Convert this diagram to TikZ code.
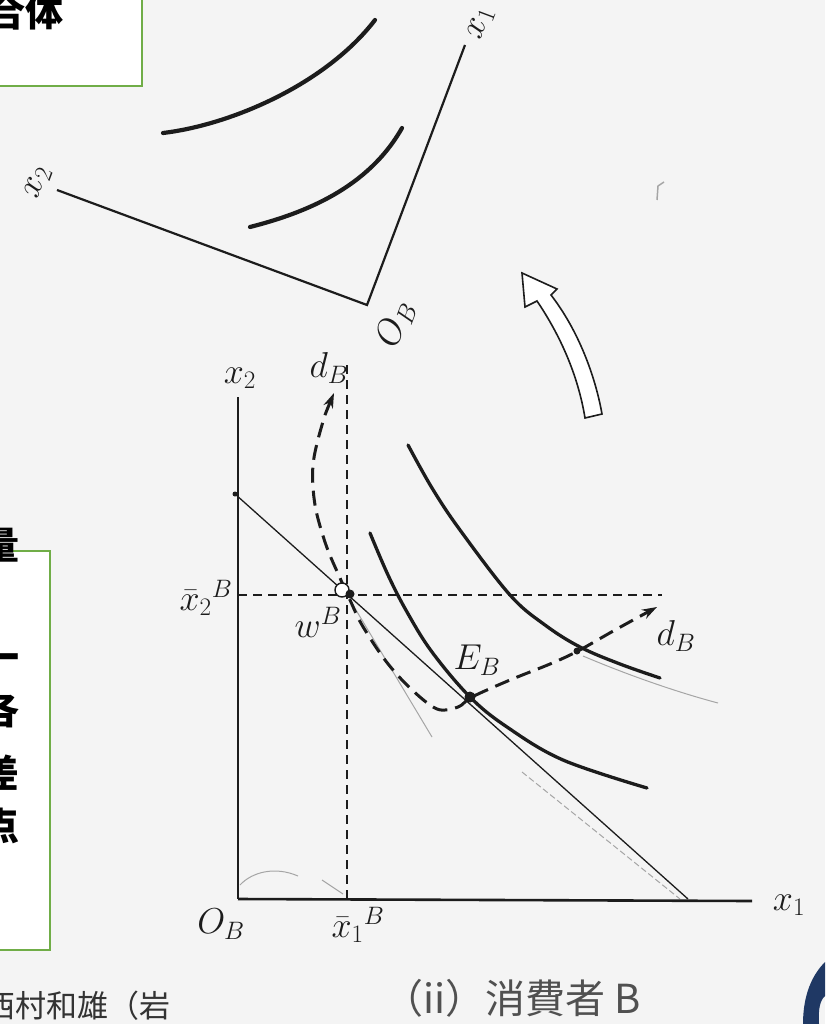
\RequirePackage{fix-cm}
\documentclass[tikz,border=0pt]{standalone}
\usepackage{fontspec}
\usetikzlibrary{arrows.meta}
\newfontfamily\cjk{Noto Sans CJK JP}
\definecolor{bg}{RGB}{244,244,244}
\definecolor{boxgreen}{RGB}{112,173,71}
\definecolor{ink}{RGB}{28,28,28}
\definecolor{faint}{RGB}{165,165,165}
\definecolor{navy}{RGB}{31,56,100}
\definecolor{captiongray}{RGB}{80,80,80}
\tikzset{
  lbl/.style={font=\fontsize{36}{36}\selectfont, inner sep=0pt, text=ink},
  axisline/.style={ink, line width=1.8pt},
  xaxisline/.style={ink, line width=2.6pt},
  upaxis/.style={ink, line width=2.2pt, line join=miter},
  icurve/.style={ink, line width=3.3pt, line cap=round},
  upcurve/.style={ink, line width=4.2pt, line cap=round},
  guide/.style={ink, line width=1.2pt, dash pattern=on 9pt off 6pt},
  budget/.style={ink, line width=1.3pt},
  demand/.style={ink, line width=3pt, dash pattern=on 15pt off 8pt,
    {Stealth[length=15pt,width=10pt]}-{Stealth[length=15pt,width=10pt]}},
  faintline/.style={faint, line width=1pt},
  greenbox/.style={draw=boxgreen, line width=2.5pt, fill=white},
  jpbig/.style={font=\cjk\bfseries\fontsize{38}{38}\selectfont, inner sep=0pt, text=black},
  dotnode/.style={circle, fill=ink, inner sep=0pt}
}
\begin{document}
\begin{tikzpicture}[x=1pt,y=-1pt]
\useasboundingbox (0,0) rectangle (825,1024);
\fill[bg] (0,0) rectangle (825,1024);

% ---- green boxes with cut text ----
\draw[greenbox] (-10,-10) rectangle (142,86);
\node[jpbig, anchor=east] (gotai) at (64,12) {合体};
\draw[greenbox] (-10,551) rectangle (50,950);
\node[jpbig, anchor=east] (c1) at (20,545) {量};
\node[jpbig, anchor=east] (c2) at (20,663) {一};
\node[jpbig, anchor=east] (c3) at (20,710) {各};
\node[jpbig, anchor=east] (c4) at (20,773) {差};
\node[jpbig, anchor=east] (c5) at (20,826) {点};
\node[font=\cjk\fontsize{31}{31}\selectfont, text=black!80, anchor=west, inner sep=0pt] (author) at (-16,1006) {西村和雄（岩};

% ---- navy logo fragment ----
\fill[navy] (825,962) .. controls (812,975) and (803,995) .. (803,1024) -- (819,1024) .. controls (818,1010) and (820,1000) .. (825,996) -- cycle;

% ---- upper rotated diagram ----
\coordinate (OBu) at (367,305);
\coordinate (x1u) at (465,45);
\coordinate (x2u) at (57,190);
\draw[upaxis] (x2u) -- (OBu) -- (x1u);
\draw[upcurve] (163,133) .. controls (230,125) and (325,85) .. (375,20);
\draw[upcurve] (250,227) .. controls (305,213) and (368,188) .. (402,128);
\node[lbl, rotate=69.5] (x1ul) at (481,24) {$x_1$};
\node[lbl, rotate=69.5] (x2ul) at (38,183) {$x_2$};
\node[lbl, rotate=69.5] (OBul) at (396,324) {$O_B$};

% ---- open curved arrow ----
\draw[ink, line width=1.6pt, fill=white, line join=miter]
  (585,418) -- (602,414) .. controls (595,375) and (578,330) .. (551,295)
  -- (557,289) -- (522,273) -- (525,307) -- (537,301)
  .. controls (560,335) and (578,375) .. (585,418) -- cycle;
% faint mark
\draw[faint, line width=1.5pt] (657,200) -- (658,186) -- (664,182);

% ---- main diagram ----
\coordinate (O) at (238,899);
\coordinate (x2top) at (238,397);
\coordinate (x1end) at (752,901);
\coordinate (vtop) at (347,365);
\coordinate (vbot) at (347,899);
\coordinate (hleft) at (238,595);
\coordinate (hright) at (662,595);
\coordinate (bstart) at (235,494);
\coordinate (bend) at (688,899);

% faint traces
\draw[faintline] (350,600) -- (432,737);
\draw[faintline, dash pattern=on 6pt off 3pt] (522,772) -- (680,899);
\draw[faintline] (583,656) .. controls (630,676) and (680,693) .. (718,703);
\draw[faintline] (240,885) .. controls (252,872) and (275,866) .. (298,876);
\draw[faintline] (322,880) -- (343,894);

\draw[guide] (vtop) -- (vbot);
\draw[guide] (hleft) -- (hright);
\draw[axisline] (x2top) -- (O);
\draw[xaxisline] (O) -- (x1end);
\draw[budget] (bstart) -- (bend);
\node[dotnode, minimum size=5pt] (bdot) at (bstart) {};

\draw[icurve] plot[smooth, tension=0.6] coordinates {(370,533) (388,575) (407,612) (432,652) (470,697) (507,727) (563,760) (647,788)};
\draw[icurve] plot[smooth, tension=0.6] coordinates {(408,445) (432,488) (460,530) (510,595) (545,625) (580,647) (620,664) (660,678)};

\draw[demand] plot[smooth, tension=0.55] coordinates {(334,393) (322,425) (313,465) (315,505) (326,545) (340,578) (350,600) (362,625) (385,660) (410,688) (437,709) (458,707) (472,697) (510,680) (550,664) (578,651) (615,630) (657,607)};

\node[circle, draw=ink, fill=white, line width=1.4pt, minimum size=14pt, inner sep=0pt] (wring) at (342,590) {};
\node[dotnode, minimum size=9pt] (wdot) at (350,594) {};
\node[dotnode, minimum size=11pt] (EB) at (470,697) {};
\node[dotnode, minimum size=7pt] (cross) at (577,651) {};

% labels
\node[lbl] (x2l) at (240,378) {$x_2$};
\node[lbl] (dBtop) at (329,368) {$d_B$};
\node[lbl] (x2bar) at (206,598) {$\bar{x}_2{}^{B}$};
\node[lbl] (wB) at (318,622) {$w^{B}$};
\node[lbl] (EBl) at (477,660) {$E_B$};
\node[lbl] (dBright) at (676,636) {$d_B$};
\node[lbl] (OBl) at (221,924) {$O_B$};
\node[lbl] (x1bar) at (358,925) {$\bar{x}_1{}^{B}$};
\node[lbl] (x1l) at (789,905) {$x_1$};

\node[font=\cjk\fontsize{40}{40}\selectfont, text=captiongray, inner sep=0pt] (caption) at (512,998) {（ii）消費者 B};
\end{tikzpicture}
\end{document}
